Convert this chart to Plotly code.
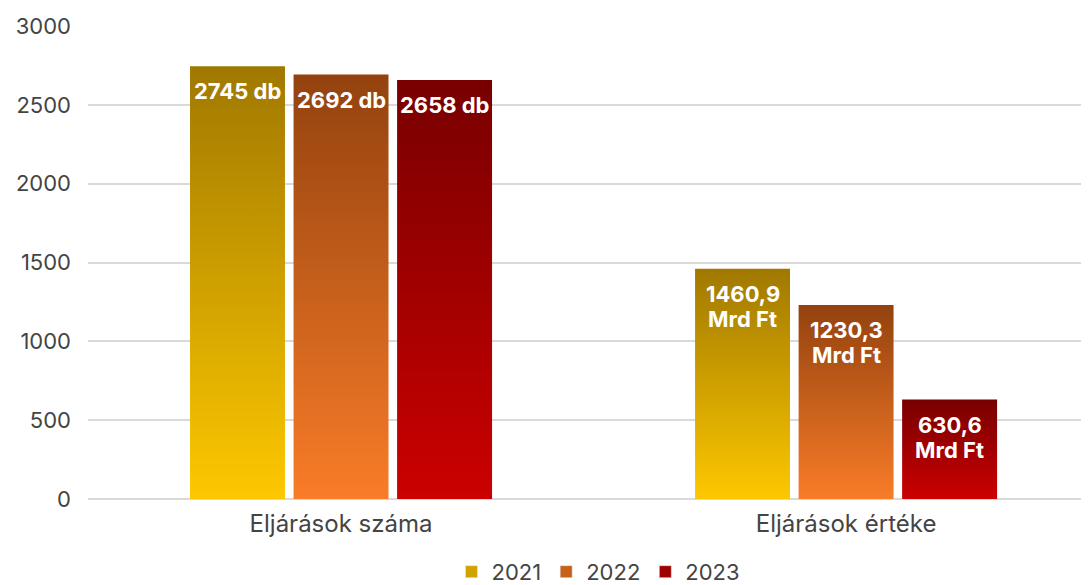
import plotly.graph_objects as go

categories = ['Eljárások száma', 'Eljárások értéke']
years = ['2021', '2022', '2023']
values = {
    '2021': [2745, 1460.9],
    '2022': [2692, 1230.3],
    '2023': [2658, 630.6],
}
labels = {
    '2021': [['2745 db'], ['1460,9', 'Mrd Ft']],
    '2022': [['2692 db'], ['1230,3', 'Mrd Ft']],
    '2023': [['2658 db'], ['630,6', 'Mrd Ft']],
}
y_ticks = [0, 500, 1000, 1500, 2000, 2500, 3000]

# gradient colours per year: (bottom, top, legend swatch)
colors = {
    '2021': ('#fdc800', '#a07800', '#d1a200'),
    '2022': ('#f97c28', '#93420f', '#c8601c'),
    '2023': ('#cc0000', '#780000', '#a00000'),
}

bar_w = 0.188
step = 0.205

fig = go.Figure()
annotations = []
for j, yr in enumerate(years):
    off = (j - 1) * step
    bottom, top, swatch = colors[yr]
    for i, v in enumerate(values[yr]):
        x0, x1 = i + off - bar_w / 2, i + off + bar_w / 2
        fig.add_trace(go.Scatter(
            x=[x0, x1, x1, x0, x0], y=[0, 0, v, v, 0],
            mode='lines', fill='toself', line=dict(width=0),
            fillgradient=dict(type='vertical', start=0, stop=v,
                              colorscale=[[0, bottom], [1, top]]),
            name=yr, legendgroup=yr, showlegend=False,
            hoverinfo='skip',
        ))
        for k, line in enumerate(labels[yr][i]):
            annotations.append(dict(
                x=i + off, y=v, text=line, showarrow=False,
                xanchor='center', yanchor='top', yshift=-10 - k * 25,
                font=dict(family='Inter', size=22, color='white', weight='bold'),
            ))
    # legend entry
    fig.add_trace(go.Bar(x=[None], y=[None], name=yr, legendgroup=yr,
                         marker=dict(color=swatch), showlegend=True))

# page body has an 8px margin, so the figure is a bit smaller
fig.update_layout(
    width=1081, height=577,
    margin=dict(l=80, r=0, t=18, b=86, autoexpand=False),
    plot_bgcolor='white', paper_bgcolor='white',
    font=dict(family='Inter', size=22, color='#444444'),
    annotations=annotations,
    showlegend=True,
    legend=dict(orientation='h', x=0.51, xanchor='center',
                y=-0.154, yanchor='middle',
                font=dict(size=22, color='#444444'),
                itemwidth=30, traceorder='normal'),
    xaxis=dict(range=[-0.501, 1.481], tickvals=[0, 1], ticktext=categories,
               showgrid=False, zeroline=False, showline=False, ticks='',
               automargin=False, ticklabelstandoff=8,
               tickfont=dict(size=24)),
    yaxis=dict(range=[0, 3000], tickvals=y_ticks, showgrid=True,
               gridcolor='#d9d9d9', gridwidth=1.5, zeroline=True,
               zerolinecolor='#d9d9d9', zerolinewidth=1.5,
               ticklabelstandoff=16, automargin=False,
               tickfont=dict(size=22)),
)

fig.write_html('out.html')
